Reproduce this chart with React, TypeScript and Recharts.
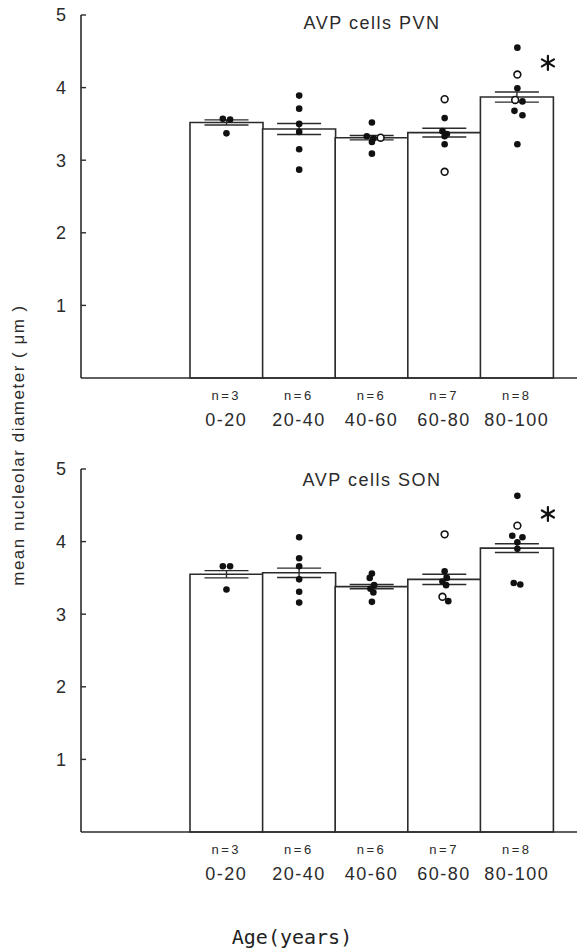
import React from 'react';
import { ComposedChart, Bar, Scatter, XAxis, YAxis, ErrorBar } from 'recharts';

const ageGroups = ['0-20', '20-40', '40-60', '60-80', '80-100'];
const groupN = [3, 6, 6, 7, 8];

// PVN panel
const pvnMean = [3.52, 3.43, 3.31, 3.38, 3.87];
const pvnSem = [0.035, 0.075, 0.03, 0.06, 0.07];
const pvnFilled = [
  { x: -0.05, y: 3.57 }, { x: 0.05, y: 3.56 }, { x: 0, y: 3.37 },
  { x: 1, y: 3.89 }, { x: 1, y: 3.71 }, { x: 1, y: 3.5 }, { x: 1, y: 3.39 }, { x: 1, y: 3.15 }, { x: 1, y: 2.87 },
  { x: 2, y: 3.52 }, { x: 1.93, y: 3.33 }, { x: 2.02, y: 3.3 }, { x: 2, y: 3.25 }, { x: 2, y: 3.09 },
  { x: 3, y: 3.58 }, { x: 2.97, y: 3.4 }, { x: 3.03, y: 3.36 }, { x: 3, y: 3.33 }, { x: 3, y: 3.22 },
  { x: 4, y: 4.55 }, { x: 4, y: 3.99 }, { x: 4.07, y: 3.81 }, { x: 3.96, y: 3.68 }, { x: 4.07, y: 3.62 }, { x: 4, y: 3.22 },
];
const pvnOpen = [
  { x: 2.12, y: 3.31 },
  { x: 3, y: 3.84 }, { x: 3, y: 2.84 },
  { x: 4, y: 4.18 }, { x: 3.97, y: 3.83 },
];
const pvnStar = [{ x: 4.42, y: 4.34 }];

// SON panel
const sonMean = [3.55, 3.57, 3.38, 3.48, 3.91];
const sonSem = [0.05, 0.065, 0.03, 0.07, 0.06];
const sonFilled = [
  { x: -0.05, y: 3.66 }, { x: 0.05, y: 3.66 }, { x: 0, y: 3.34 },
  { x: 1, y: 4.06 }, { x: 1, y: 3.77 }, { x: 1, y: 3.66 }, { x: 1, y: 3.48 }, { x: 1, y: 3.31 }, { x: 1, y: 3.16 },
  { x: 2, y: 3.56 }, { x: 1.97, y: 3.5 }, { x: 2.03, y: 3.4 }, { x: 1.98, y: 3.35 }, { x: 2.02, y: 3.3 }, { x: 2, y: 3.17 },
  { x: 3, y: 3.59 }, { x: 3.03, y: 3.5 }, { x: 2.97, y: 3.45 }, { x: 3.02, y: 3.4 }, { x: 3.05, y: 3.18 },
  { x: 4, y: 4.63 }, { x: 3.93, y: 4.08 }, { x: 4.07, y: 4.06 }, { x: 4, y: 3.99 }, { x: 4, y: 3.9 }, { x: 3.95, y: 3.43 }, { x: 4.04, y: 3.41 },
];
const sonOpen = [
  { x: 3, y: 4.1 }, { x: 2.97, y: 3.24 },
  { x: 4, y: 4.22 },
];
const sonStar = [{ x: 4.42, y: 4.38 }];

const yTicks = [1, 2, 3, 4, 5];

const INK = '#2b2b2b';
const FONT = '"Liberation Sans", Arial, sans-serif';

const AgeTick = (props: any) => {
  const { x, y, payload } = props;
  const i = ageGroups.indexOf(payload.value);
  return (
    <g fill={INK} fontFamily={FONT}>
      <text x={x} y={y + 22} textAnchor="middle" fontSize={13} letterSpacing={2.5}>{`n=${groupN[i]}`}</text>
      <text x={x} y={y + 48} textAnchor="middle" fontSize={18} letterSpacing={1.5}>{ageGroups[i]}</text>
    </g>
  );
};

const dot = (fill: boolean) => (p: any) => (
  <circle cx={p.cx} cy={p.cy} r={fill ? 3.3 : 3.4} fill={fill ? '#111' : '#fff'} stroke="#111" strokeWidth={fill ? 0 : 1.6} />
);

const star = (p: any) => {
  const r = 7;
  const spokes = [90, 30, -30];
  return (
    <g stroke="#111" strokeWidth={2.2} strokeLinecap="round">
      {spokes.map((a) => {
        const dx = r * Math.cos((a * Math.PI) / 180);
        const dy = r * Math.sin((a * Math.PI) / 180);
        return <line key={a} x1={p.cx - dx} y1={p.cy - dy} x2={p.cx + dx} y2={p.cy + dy} />;
      })}
    </g>
  );
};

interface PanelProps {
  means: number[];
  sems: number[];
  filled: { x: number; y: number }[];
  open: { x: number; y: number }[];
  sig: { x: number; y: number }[];
}

const Panel: React.FC<PanelProps> = ({ means, sems, filled, open, sig }) => {
  const data = ageGroups.map((g, i) => ({ group: g, mean: means[i], sem: sems[i] }));
  return (
    <ComposedChart
      width={577}
      height={438}
      data={data}
      barCategoryGap={0}
      margin={{ top: 15, right: 0, bottom: 0, left: 0 }}
    >
      <XAxis
        xAxisId="cat"
        dataKey="group"
        type="category"
        padding={{ left: 109, right: 24 }}
        tick={<AgeTick />}
        tickLine={false}
        tickSize={0}
        tickMargin={0}
        height={60}
        interval={0}
        axisLine={{ stroke: INK, strokeWidth: 1.6 }}
      />
      <XAxis xAxisId="num" dataKey="x" type="number" domain={[-2, 4.82]} hide allowDataOverflow />
      <YAxis
        type="number"
        domain={[0, 5]}
        ticks={yTicks}
        width={81}
        tickSize={-5}
        tickMargin={20}
        tick={{ fill: INK, fontSize: 18, fontFamily: FONT }}
        tickLine={{ stroke: INK, strokeWidth: 1.4 }}
        axisLine={{ stroke: INK, strokeWidth: 1.6 }}
      />
      <Bar xAxisId="cat" dataKey="mean" fill="#fff" stroke={INK} strokeWidth={1.6} isAnimationActive={false}>
        <ErrorBar dataKey="sem" width={22} stroke={INK} strokeWidth={1.4} direction="y" />
      </Bar>
      <Scatter xAxisId="num" data={filled} dataKey="y" shape={dot(true)} isAnimationActive={false} />
      <Scatter xAxisId="num" data={open} dataKey="y" shape={dot(false)} isAnimationActive={false} />
      <Scatter xAxisId="num" data={sig} dataKey="y" shape={star} isAnimationActive={false} />
    </ComposedChart>
  );
};

const titleStyle: React.CSSProperties = {
  position: 'absolute',
  left: 272,
  width: 200,
  textAlign: 'center',
  fontFamily: FONT,
  fontSize: 18,
  letterSpacing: 1.5,
  color: INK,
  lineHeight: '20px',
};

export default function App() {
  return (
    <div style={{ position: 'absolute', left: 0, top: 0, width: 577, height: 949, background: '#fff' }}>
      <div style={{ position: 'absolute', left: 0, top: 0 }}>
        <Panel means={pvnMean} sems={pvnSem} filled={pvnFilled} open={pvnOpen} sig={pvnStar} />
      </div>
      <div style={{ position: 'absolute', left: 0, top: 454 }}>
        <Panel means={sonMean} sems={sonSem} filled={sonFilled} open={sonOpen} sig={sonStar} />
      </div>
      <div style={{ ...titleStyle, top: 13 }}>AVP cells PVN</div>
      <div style={{ ...titleStyle, top: 470 }}>AVP cells SON</div>
      <svg style={{ position: 'absolute', left: 0, top: 0 }} width={40} height={949}>
        <text
          x={0}
          y={0}
          transform="translate(24 445) rotate(-90)"
          textAnchor="middle"
          fontFamily={FONT}
          fontSize={17}
          letterSpacing={1.5}
          fill={INK}
        >
          mean nucleolar diameter  ( μm )
        </text>
      </svg>
      <div
        style={{
          position: 'absolute',
          left: 192,
          width: 200,
          top: 925,
          textAlign: 'center',
          fontFamily: '"DejaVu Sans Mono", monospace',
          fontSize: 20,
          lineHeight: '24px',
          color: '#222',
        }}
      >
        Age(years)
      </div>
    </div>
  );
}
